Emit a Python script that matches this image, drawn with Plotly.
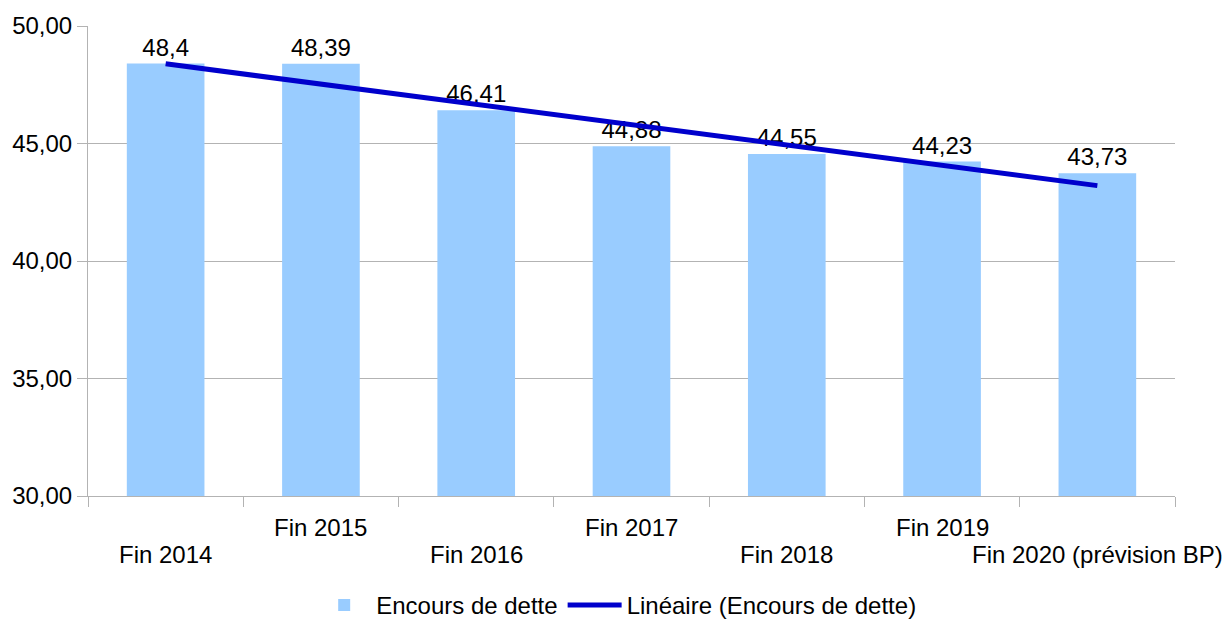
import numpy as np
import plotly.graph_objects as go

categories = ["Fin 2014", "Fin 2015", "Fin 2016", "Fin 2017", "Fin 2018", "Fin 2019",
              "Fin 2020 (prévision BP)"]
encours = [48.4, 48.39, 46.41, 44.88, 44.55, 44.23, 43.73]
y_ticks = [30, 35, 40, 45, 50]

FONT = "Liberation Sans, Arial, sans-serif"
FS = 24

# linear trend like the spreadsheet's "Linéaire" trendline
idx = np.arange(len(encours))
slope, intercept = np.polyfit(idx, encours, 1)
trend = slope * idx + intercept

labels = [str(v).replace(".", ",") for v in encours]

fig = go.Figure()
fig.add_trace(go.Bar(
    x=categories, y=encours, name="Encours de dette",
    marker=dict(color="#99ccff", line=dict(width=0)),
    text=labels, textposition="outside", cliponaxis=False,
    textfont=dict(size=FS, color="black", family=FONT),
))
fig.add_trace(go.Scatter(
    x=categories, y=trend, mode="lines", name="Linéaire (Encours de dette)",
    line=dict(color="#0000cc", width=5),
))

# staggered category labels
for i, c in enumerate(categories):
    fig.add_annotation(
        x=c, xref="x", y=-0.068 if i % 2 else -0.1255, yref="paper",
        text=c, showarrow=False, yanchor="middle", xanchor="center",
        font=dict(size=FS, color="black", family=FONT),
    )

fig.update_layout(
    width=1226, height=628,
    margin=dict(l=88, r=51, t=26, b=132, autoexpand=False),
    paper_bgcolor="white", plot_bgcolor="white",
    font=dict(family=FONT, size=FS, color="black"),
    separators=", ",
    bargap=0.5,
    showlegend=True,
    legend=dict(orientation="h", xref="container", yref="container",
                x=0.503, xanchor="center", y=-0.014, yanchor="bottom",
                itemwidth=54, font=dict(size=FS, family=FONT), traceorder="normal"),
)
fig.update_xaxes(
    type="category", range=[-0.5, len(categories) - 0.5],
    showticklabels=False, tickson="boundaries",
    ticks="outside", ticklen=10, tickcolor="#b3b3b3",
    showline=True, linecolor="#b3b3b3", linewidth=1, showgrid=False,
)
fig.update_yaxes(
    range=[30, 50], tickvals=y_ticks, tickformat=".2f",
    ticks="outside", ticklen=10, tickcolor="#b3b3b3",
    showline=True, linecolor="#b3b3b3", linewidth=1,
    showgrid=True, gridcolor="#b3b3b3", gridwidth=1, zeroline=False,
    tickfont=dict(size=FS, family=FONT),
)

# drop the default 8px page margin so the figure fills the window exactly
fig.write_html("out.html", config={"displayModeBar": False},
               post_script="document.body.style.margin='0';document.body.style.overflow='hidden';")
